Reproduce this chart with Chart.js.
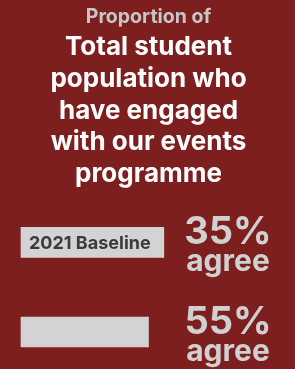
<!DOCTYPE html>
<html>
<head>
<meta charset="utf-8">
<script src="https://cdn.jsdelivr.net/npm/chart.js@4"></script>
<style>
  html, body { margin: 0; padding: 0; background: #7c1f1e; }
  #wrap { width: 295px; height: 369px; position: relative; }
</style>
</head>
<body>
<div id="wrap"><canvas id="chart"></canvas></div>
<script>
const categories = ['2021 Baseline', ''];
const barLengths = [56, 50];
const agreePct = [35, 55];
const agreeWord = 'agree';

const bgColor = '#7c1f1e';
const barColor = '#d3d3d3';
const fontName = 'Inter';

// text on and beside each bar
const barText = {
    id: 'barText',
    afterDatasetsDraw(chart) {
        const ctx = chart.ctx;
        const meta = chart.getDatasetMeta(0);
        ctx.save();
        meta.data.forEach((bar, i) => {
            const y = bar.y;
            if (categories[i]) {
                ctx.font = '700 18px ' + fontName;
                ctx.fillStyle = '#3b3b3b';
                ctx.textAlign = 'left';
                ctx.textBaseline = 'alphabetic';
                ctx.fillText(categories[i], bar.base + 8, y + 7);
            }
            ctx.fillStyle = '#d0d0d0';
            ctx.textAlign = 'center';
            ctx.textBaseline = 'alphabetic';
            ctx.font = '700 38px ' + fontName;
            ctx.fillText(agreePct[i] + '%', 228, y + 2);
            ctx.font = '700 30px ' + fontName;
            ctx.fillText(agreeWord, 228, y + 29);
        });
        ctx.restore();
    }
};

new Chart(document.getElementById('chart'), {
    type: 'bar',
    data: {
        labels: categories,
        datasets: [{
            data: barLengths,
            backgroundColor: barColor,
            barThickness: 30,
            clip: false
        }]
    },
    options: {
        indexAxis: 'y',
        responsive: true,
        maintainAspectRatio: false,
        animation: false,
        layout: { padding: { left: 21, right: 19, top: 0, bottom: 37 } },
        scales: {
            x: { display: false, min: 0, max: 100 },
            y: { display: false, offset: false }
        },
        plugins: {
            legend: { display: false },
            tooltip: { enabled: false },
            title: {
                display: true,
                text: 'Proportion of',
                color: '#c6c6c6',
                font: { family: fontName, size: 19.5, weight: '700', lineHeight: 1.1 },
                padding: { top: 6, bottom: 4 }
            },
            subtitle: {
                display: true,
                text: ['Total student', 'population who', 'have engaged', 'with our events', 'programme'],
                color: '#ffffff',
                font: { family: fontName, size: 26, weight: '700', lineHeight: 1.22 },
                padding: { top: 0, bottom: 52.4 }
            }
        }
    },
    plugins: [barText]
});
</script>
</body>
</html>
